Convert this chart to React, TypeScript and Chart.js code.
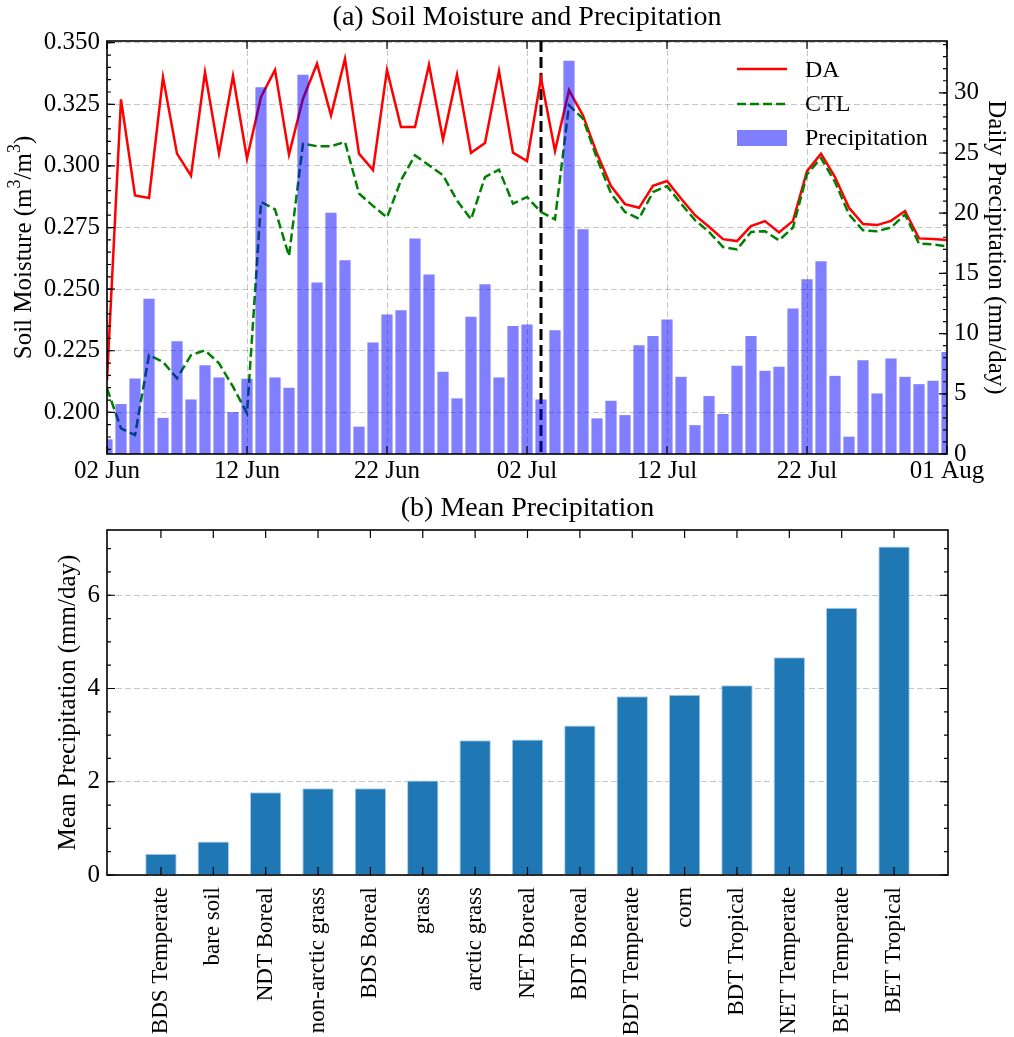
import React, { useEffect, useRef } from 'react';
import { Chart, registerables } from 'chart.js';

Chart.register(...registerables);

const SERIF = "'Liberation Serif', 'Times New Roman', Times, serif";

// ---------------- data ----------------
const dateTickLabels = ['02 Jun', '12 Jun', '22 Jun', '02 Jul', '12 Jul', '22 Jul', '01 Aug'];
const dateTickDays = [0, 10, 20, 30, 40, 50, 60];

const daMoisture = [
  0.213, 0.327, 0.288, 0.287, 0.336, 0.305, 0.296, 0.338, 0.305, 0.3365,
  0.303, 0.328, 0.339, 0.3046, 0.3273, 0.3415, 0.3205, 0.3435, 0.305, 0.2983,
  0.339, 0.3158, 0.3158, 0.3411, 0.3107, 0.337, 0.3053, 0.3093, 0.3385, 0.3054,
  0.302, 0.3357, 0.3061, 0.3307, 0.3205, 0.305, 0.2918, 0.2845, 0.283, 0.2919,
  0.2939, 0.2868, 0.28, 0.2753, 0.2703, 0.2695, 0.2756, 0.2776, 0.273, 0.2777,
  0.2979, 0.305, 0.2955, 0.283, 0.2764, 0.276, 0.2777, 0.2817, 0.2706, 0.2703,
  0.2699,
];

const ctlMoisture = [
  0.2097, 0.1935, 0.1908, 0.2232, 0.2205, 0.2138, 0.2232, 0.2252, 0.2199, 0.2104,
  0.1996, 0.2854, 0.2824, 0.2634, 0.309, 0.308, 0.308, 0.3097, 0.2888, 0.2838,
  0.2791, 0.2942, 0.3043, 0.3003, 0.2962, 0.286, 0.2783, 0.2955, 0.2985, 0.2847,
  0.2874, 0.2813, 0.2783, 0.3246, 0.3192, 0.303, 0.2888, 0.2813, 0.2786, 0.2894,
  0.2918, 0.2847, 0.278, 0.2732, 0.2671, 0.2661, 0.2732, 0.2735, 0.2698, 0.275,
  0.2966, 0.3032, 0.2935, 0.2803, 0.2739, 0.2735, 0.275, 0.2803, 0.2685, 0.2682,
  0.2674,
];

const dailyPrecip = [
  1.22, 4.15, 6.27, 12.9, 3.0, 9.37, 4.53, 7.38, 6.36, 3.48,
  6.25, 30.46, 6.36, 5.5, 31.5, 14.24, 20.04, 16.09, 2.27, 9.26,
  11.58, 11.94, 17.89, 14.9, 6.83, 4.62, 11.39, 14.1, 6.36, 10.64,
  10.75, 4.53, 10.28, 32.67, 18.66, 2.96, 4.42, 3.23, 9.04, 9.81,
  11.17, 6.41, 2.4, 4.81, 3.32, 7.32, 9.81, 6.91, 7.24, 12.08,
  14.51, 16.0, 6.49, 1.44, 7.79, 5.03, 7.93, 6.41, 5.8, 6.08,
  8.48,
];

const markerDay = 31; // 03 Jul

const pftLabels = [
  'BDS Temperate', 'bare soil', 'NDT Boreal', 'non-arctic grass', 'BDS Boreal',
  'grass', 'arctic grass', 'NET Boreal', 'BDT Boreal', 'BDT Temperate',
  'corn', 'BDT Tropical', 'NET Temperate', 'BET Temperate', 'BET Tropical',
];
const meanPrecip = [
  0.456, 0.72, 1.777, 1.863, 1.863, 2.026, 2.89, 2.904, 3.204, 3.833,
  3.868, 4.068, 4.668, 5.73, 7.045,
];

const smTicks = [0.2, 0.225, 0.25, 0.275, 0.3, 0.325, 0.35];
const prTicks = [0, 5, 10, 15, 20, 25, 30];
const meanTicks = [0, 2, 4, 6];

// ---------------- helpers ----------------
function steps(start: number, stop: number, step: number): number[] {
  const out: number[] = [];
  const n = Math.round((stop - start) / step);
  for (let i = 0; i <= n; i++) out.push(+(start + i * step).toFixed(6));
  return out;
}

type Side = 'left' | 'right' | 'top' | 'bottom';
type TickSpec = { axis: string; values: number[]; len: number; sides: Side[] };

const frameTicksPlugin = {
  id: 'frameTicks',
  afterDraw(chart: any, _args: any, opts: any) {
    const { ctx, chartArea: a } = chart;
    const specs: TickSpec[] = (opts && opts.specs) || [];
    ctx.save();
    ctx.setLineDash([]);
    ctx.strokeStyle = '#000';
    ctx.lineWidth = 1.2;
    for (const s of specs) {
      const scale = chart.scales[s.axis];
      ctx.beginPath();
      for (const v of s.values) {
        const p = scale.getPixelForValue(v);
        for (const side of s.sides) {
          if (side === 'left') { ctx.moveTo(a.left, p); ctx.lineTo(a.left + s.len, p); }
          if (side === 'right') { ctx.moveTo(a.right, p); ctx.lineTo(a.right - s.len, p); }
          if (side === 'bottom') { ctx.moveTo(p, a.bottom); ctx.lineTo(p, a.bottom - s.len); }
          if (side === 'top') { ctx.moveTo(p, a.top); ctx.lineTo(p, a.top + s.len); }
        }
      }
      ctx.stroke();
    }
    ctx.lineWidth = 1.6;
    ctx.strokeRect(a.left, a.top, a.right - a.left, a.bottom - a.top);
    ctx.restore();
  },
};

const GRID = 'rgba(0,0,0,0.22)';
const tickFont = { family: SERIF, size: 25 };
const titleFont = { family: SERIF, size: 25 };

function drawTitle(chart: any, text: string, y: number) {
  const { ctx, chartArea: a } = chart;
  ctx.save();
  ctx.fillStyle = '#000';
  ctx.font = `28px ${SERIF}`;
  ctx.textAlign = 'center';
  ctx.textBaseline = 'middle';
  ctx.fillText(text, (a.left + a.right) / 2, y);
  ctx.restore();
}

// rotated label with superscripts: pieces [text, isSup]
function drawRotatedRich(ctx: any, cx: number, cy: number, pieces: [string, boolean][], size: number) {
  const supSize = Math.round(size * 0.7);
  ctx.save();
  ctx.translate(cx, cy);
  ctx.rotate(-Math.PI / 2);
  ctx.fillStyle = '#000';
  ctx.textBaseline = 'middle';
  ctx.textAlign = 'left';
  let total = 0;
  const widths = pieces.map(([t, sup]) => {
    ctx.font = `${sup ? supSize : size}px ${SERIF}`;
    const w = ctx.measureText(t).width;
    total += w;
    return w;
  });
  let x = -total / 2;
  pieces.forEach(([t, sup], i) => {
    ctx.font = `${sup ? supSize : size}px ${SERIF}`;
    ctx.fillText(t, x, sup ? -size * 0.33 : 0);
    x += widths[i];
  });
  ctx.restore();
}

const topDecorPlugin = {
  id: 'topDecor',
  beforeDatasetsDraw(chart: any) {
    const { ctx, chartArea: a } = chart;
    const x = chart.scales.x.getPixelForValue(markerDay);
    ctx.save();
    ctx.strokeStyle = '#000';
    ctx.lineWidth = 3;
    ctx.setLineDash([11, 5]);
    ctx.beginPath();
    ctx.moveTo(x, a.top);
    ctx.lineTo(x, a.bottom);
    ctx.stroke();
    ctx.restore();
  },
  afterDraw(chart: any) {
    const { ctx, chartArea: a } = chart;
    drawTitle(chart, '(a) Soil Moisture and Precipitation', 18);
    drawRotatedRich(ctx, 24, (a.top + a.bottom) / 2, [
      ['Soil Moisture (m', false], ['3', true], ['/m', false], ['3', true], [')', false],
    ], 25);
    ctx.save();
    const x0 = 737, x1 = 787, tx = 805;
    ctx.lineWidth = 2.5;
    ctx.strokeStyle = '#ff0000';
    ctx.beginPath(); ctx.moveTo(x0, 69); ctx.lineTo(x1, 69); ctx.stroke();
    ctx.strokeStyle = '#008000';
    ctx.setLineDash([9, 4]);
    ctx.beginPath(); ctx.moveTo(x0, 104); ctx.lineTo(x1, 104); ctx.stroke();
    ctx.setLineDash([]);
    ctx.fillStyle = 'rgba(0,0,255,0.5)';
    ctx.fillRect(x0, 130, x1 - x0, 16);
    ctx.fillStyle = '#000';
    ctx.font = `24px ${SERIF}`;
    ctx.textAlign = 'left';
    ctx.textBaseline = 'middle';
    ctx.fillText('DA', tx, 71);
    ctx.fillText('CTL', tx, 105);
    ctx.fillText('Precipitation', tx, 139);
    ctx.restore();
  },
};

const bottomDecorPlugin = {
  id: 'bottomDecor',
  afterDraw(chart: any) {
    drawTitle(chart, '(b) Mean Precipitation', 19);
  },
};

export default function App() {
  const topRef = useRef<HTMLCanvasElement | null>(null);
  const botRef = useRef<HTMLCanvasElement | null>(null);

  useEffect(() => {
    document.body.style.margin = '0';
    const c1 = topRef.current!;
    const c2 = botRef.current!;

    const top = new Chart(c1, {
      type: 'bar',
      data: {
        datasets: [
          {
            type: 'line',
            label: 'DA',
            data: daMoisture.map((v, i) => ({ x: i, y: v })),
            borderColor: '#ff0000',
            borderWidth: 2.5,
            pointRadius: 0,
            tension: 0,
            yAxisID: 'y',
            order: 2,
          } as any,
          {
            type: 'line',
            label: 'CTL',
            data: ctlMoisture.map((v, i) => ({ x: i, y: v })),
            borderColor: '#008000',
            borderWidth: 2.5,
            borderDash: [9, 4],
            pointRadius: 0,
            tension: 0,
            yAxisID: 'y',
            order: 1,
          } as any,
          {
            type: 'bar',
            label: 'Precipitation',
            data: dailyPrecip.map((v, i) => ({ x: i, y: v })),
            backgroundColor: 'rgba(0,0,255,0.5)',
            barPercentage: 0.8,
            categoryPercentage: 1,
            yAxisID: 'y2',
            clip: 0,
            order: 0,
          } as any,
        ],
      },
      options: {
        animation: false,
        responsive: false,
        maintainAspectRatio: false,
        layout: { padding: { top: 41, left: 0, right: 0, bottom: 0 } },
        plugins: {
          legend: { display: false },
          tooltip: { enabled: false },
          frameTicks: {
            specs: [
              { axis: 'y', values: steps(0.185, 0.35, 0.005), len: 4, sides: ['left'] },
              { axis: 'y', values: smTicks, len: 8, sides: ['left'] },
              { axis: 'y2', values: steps(0, 34, 1), len: 4, sides: ['right'] },
              { axis: 'y2', values: prTicks, len: 8, sides: ['right'] },
              { axis: 'x', values: dateTickDays, len: 8, sides: ['top', 'bottom'] },
            ],
          },
        } as any,
        scales: {
          x: {
            type: 'linear',
            position: 'bottom',
            min: 0,
            max: 60,
            offset: false,
            afterBuildTicks: (s: any) => { s.ticks = dateTickDays.map((v) => ({ value: v })); },
            afterFit: (s: any) => { s.height = 36; },
            ticks: {
              callback: (v: any) => dateTickLabels[dateTickDays.indexOf(Math.round(v))] ?? '',
              font: tickFont,
              color: '#000',
              padding: 2,
              maxRotation: 0,
              minRotation: 0,
              autoSkip: false,
            },
            grid: { color: GRID, lineWidth: 1, drawTicks: false, offset: false },
            border: { display: false, dash: [6, 3] },
          } as any,
          y: {
            type: 'linear',
            position: 'left',
            min: 0.1831,
            max: 0.3507,
            afterBuildTicks: (s: any) => { s.ticks = smTicks.map((v) => ({ value: v })); },
            afterFit: (s: any) => { s.width = 107; },
            ticks: {
              callback: (v: any) => Number(v).toFixed(3),
              font: tickFont,
              color: '#000',
              padding: 7,
            },
            grid: { color: GRID, lineWidth: 1, drawTicks: false },
            border: { display: false, dash: [6, 3] },
          } as any,
          y2: {
            type: 'linear',
            position: 'right',
            min: 0,
            max: 34.3,
            afterBuildTicks: (s: any) => { s.ticks = prTicks.map((v) => ({ value: v })); },
            afterFit: (s: any) => { s.width = 67; },
            ticks: {
              callback: (v: any) => String(v),
              font: tickFont,
              color: '#000',
              padding: 7,
            },
            title: {
              display: true,
              text: 'Daily Precipitation (mm/day)',
              font: titleFont,
              color: '#000',
              padding: { top: 3, bottom: 0 },
            },
            grid: { display: false, drawTicks: false },
            border: { display: false },
          } as any,
        },
      },
      plugins: [frameTicksPlugin as any, topDecorPlugin as any],
    });

    const bot = new Chart(c2, {
      type: 'bar',
      data: {
        datasets: [
          {
            label: 'Mean Precipitation',
            data: meanPrecip.map((v, i) => ({ x: i, y: v })),
            backgroundColor: '#1f77b4',
            borderColor: '#a9cfea',
            borderWidth: 1,
            barPercentage: 0.6,
            categoryPercentage: 1,
            clip: 0,
          } as any,
        ],
      },
      options: {
        animation: false,
        responsive: false,
        maintainAspectRatio: false,
        layout: { padding: { top: 40, left: 0, right: 66, bottom: 0 } },
        plugins: {
          legend: { display: false },
          tooltip: { enabled: false },
          frameTicks: {
            specs: [
              { axis: 'y', values: steps(0, 7, 0.5), len: 4, sides: ['left', 'right'] },
              { axis: 'y', values: meanTicks, len: 8, sides: ['left', 'right'] },
              { axis: 'x', values: pftLabels.map((_, i) => i), len: 8, sides: ['top', 'bottom'] },
            ],
          },
        } as any,
        scales: {
          x: {
            type: 'linear',
            min: -1.03,
            max: 15.03,
            offset: false,
            afterBuildTicks: (s: any) => { s.ticks = pftLabels.map((_, i) => ({ value: i })); },
            afterFit: (s: any) => { s.height = 162; },
            ticks: {
              callback: (v: any) => pftLabels[Math.round(v)] ?? '',
              font: { family: SERIF, size: 23 },
              color: '#000',
              padding: 12,
              minRotation: 90,
              maxRotation: 90,
              autoSkip: false,
            },
            grid: { display: false, drawTicks: false },
            border: { display: false },
          } as any,
          y: {
            type: 'linear',
            min: 0,
            max: 7.4,
            afterBuildTicks: (s: any) => { s.ticks = meanTicks.map((v) => ({ value: v })); },
            afterFit: (s: any) => { s.width = 107; },
            ticks: {
              callback: (v: any) => String(v),
              font: tickFont,
              color: '#000',
              padding: 7,
            },
            title: {
              display: true,
              text: 'Mean Precipitation (mm/day)',
              font: titleFont,
              color: '#000',
              padding: { top: 53, bottom: 0 },
            },
            grid: { color: GRID, lineWidth: 1, drawTicks: false },
            border: { display: false, dash: [6, 3] },
          } as any,
        },
      },
      plugins: [frameTicksPlugin as any, bottomDecorPlugin as any],
    });

    return () => {
      top.destroy();
      bot.destroy();
    };
  }, []);

  return (
    <div style={{ position: 'relative', width: 1014, height: 1037, background: '#fff', overflow: 'hidden' }}>
      <canvas ref={topRef} width={1014} height={490} style={{ position: 'absolute', left: 0, top: 0, width: 1014, height: 490 }} />
      <canvas ref={botRef} width={1014} height={547} style={{ position: 'absolute', left: 0, top: 490, width: 1014, height: 547 }} />
    </div>
  );
}
